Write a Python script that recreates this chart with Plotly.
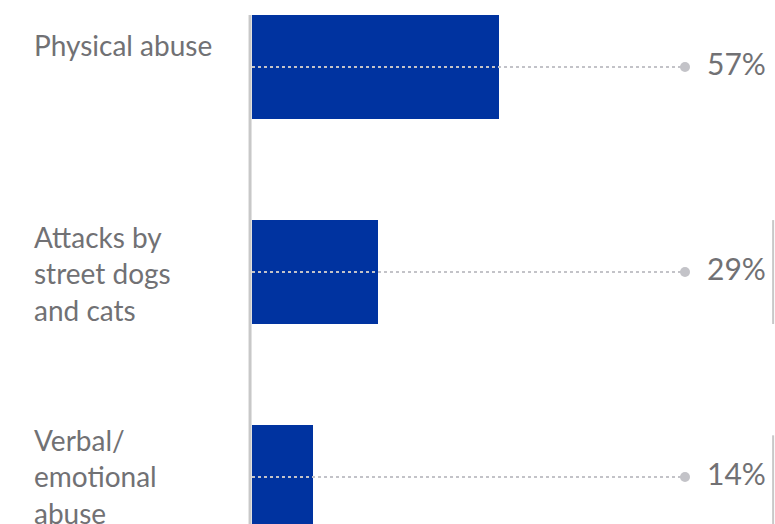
import plotly.graph_objects as go

# Data
categories = ["Physical abuse", "Attacks by street dogs and cats", "Verbal/ emotional abuse"]
label_lines = ["Physical abuse", "Attacks by<br>street dogs<br>and cats", "Verbal/<br>emotional<br>abuse"]
values = [57, 29, 14]
pct_labels = ["57%", "29%", "14%"]
scale_max = 100

BLUE = "#0033A0"
GREY_TEXT = "#717174"
GREY_LINE = "#c3c3c8"
FONT = "Lato"

BAR_W = 0.507

fig = go.Figure()

fig.add_trace(go.Bar(
    x=values, y=categories, orientation="h",
    marker=dict(color=BLUE, line=dict(width=0)),
    width=BAR_W, hoverinfo="skip", showlegend=False,
))

# Dotted leader from the baseline to the 100% mark, ending in a dot
for cat in categories:
    fig.add_trace(go.Scatter(
        x=[0, scale_max], y=[cat, cat], mode="lines",
        line=dict(color=GREY_LINE, width=2, dash="dot"),
        hoverinfo="skip", showlegend=False, cliponaxis=False,
    ))
    fig.add_trace(go.Scatter(
        x=[scale_max], y=[cat], mode="markers",
        marker=dict(color=GREY_LINE, size=10),
        hoverinfo="skip", showlegend=False, cliponaxis=False,
    ))

# Percentage labels to the right of the dots
for cat, txt in zip(categories, pct_labels):
    fig.add_annotation(
        x=scale_max, y=cat, text=txt, showarrow=False,
        xanchor="left", yanchor="middle", xshift=20, yshift=4,
        font=dict(family=FONT, size=30, color=GREY_TEXT),
    )

# Category labels on the left
label_shift = [22, -1, 1]
for cat, txt, dy in zip(categories, label_lines, label_shift):
    fig.add_annotation(
        xref="paper", x=-0.508, y=cat, text=txt, showarrow=False,
        xanchor="left", yanchor="middle", align="left", yshift=dy,
        font=dict(family=FONT, size=28, color=GREY_TEXT),
    )

# Baseline axis rule
fig.add_shape(
    type="line", xref="paper", yref="y",
    x0=-0.0045, x1=-0.0045, y0=-BAR_W / 2, y1=2.3,
    line=dict(color="#c8c8c8", width=3),
)

# Right-hand rules beside the lower rows
for i in (1, 2):
    fig.add_shape(
        type="line", xref="paper", yref="y",
        x0=1.2035, x1=1.2035,
        y0=i - BAR_W / 2 + (0.05 if i == 2 else 0), y1=i + BAR_W / 2,
        line=dict(color="#c8c8c8", width=2),
    )

fig.update_layout(
    width=775, height=524,
    margin=dict(l=252, r=90, t=0, b=0),
    paper_bgcolor="white", plot_bgcolor="white",
    xaxis=dict(range=[0, scale_max], visible=False, fixedrange=True),
    yaxis=dict(range=[2.229, -0.327], visible=False, fixedrange=True,
               categoryorder="array", categoryarray=categories),
    bargap=0,
)

fig.write_html("out.html")
